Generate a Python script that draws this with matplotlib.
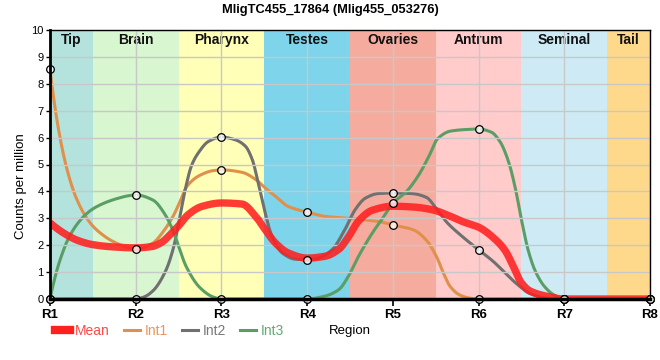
import numpy as np
import matplotlib
matplotlib.use("Agg")
import matplotlib.pyplot as plt
from matplotlib.lines import Line2D

plt.rcParams['font.family'] = ['Liberation Sans', 'DejaVu Sans']

title = "MligTC455_17864 (Mlig455_053276)"
regions = ['R1', 'R2', 'R3', 'R4', 'R5', 'R6', 'R7', 'R8']
region_pos = [1, 2, 3, 4, 5, 6, 7, 8]

# values at each region (markers)
int1 = [8.55, 1.85, 4.8, 3.23, 2.75, 0, 0, 0]
int2 = [0, 0, 6.02, 1.46, 3.94, 1.83, 0, 0]
int3 = [0, 3.87, 0, 0, 3.56, 6.32, 0, 0]

# smoothed expression profiles along the body
int1_x = [1.0, 1.05, 1.1, 1.15, 1.2, 1.25, 1.3, 1.4, 1.5, 1.6, 1.7, 1.8, 1.9, 2.0,
          2.2, 2.32, 2.44, 2.5, 2.6, 2.75, 2.9, 3.0, 3.24, 3.4, 3.51, 3.63, 3.78, 4.0,
          4.21, 4.48, 4.68, 4.85, 5.0, 5.24, 5.39, 5.51, 5.59, 5.67, 5.78, 5.9, 6.0, 8.0]
int1_v = [8.55, 7.3, 6.3, 5.47, 4.8, 4.25, 3.8, 3.15, 2.71, 2.42, 2.2, 2.04, 1.92, 1.85,
          2.08, 2.5, 3.1, 3.5, 4.2, 4.6, 4.77, 4.8, 4.71, 4.44, 4.13, 3.82, 3.44, 3.23,
          3.07, 3.0, 2.94, 2.87, 2.75, 2.57, 2.19, 1.57, 0.96, 0.46, 0.15, 0.03, 0.0, 0.0]

int2_x = [1.0, 2.0, 2.1, 2.2, 2.35, 2.44, 2.5, 2.58, 2.65, 2.73, 2.85, 3.0,
          3.16, 3.28, 3.36, 3.43, 3.51, 3.59, 3.71, 3.86, 4.0,
          4.13, 4.29, 4.44, 4.56, 4.68, 4.83, 5.0,
          5.22, 5.39, 5.51, 5.63, 5.8, 6.0,
          6.17, 6.31, 6.45, 6.6, 6.8, 7.0, 8.0]
int2_v = [0.0, 0.0, 0.08, 0.3, 1.05, 1.9, 2.8, 4.1, 4.95, 5.43, 5.86, 6.02,
          5.92, 5.68, 5.18, 4.31, 3.2, 2.33, 1.71, 1.48, 1.46,
          1.52, 1.83, 2.58, 3.32, 3.75, 3.92, 3.94,
          3.92, 3.78, 3.35, 2.85, 2.35, 1.83,
          1.4, 0.97, 0.55, 0.2, 0.03, 0.0, 0.0]

int3_x = [1.0, 1.05, 1.1, 1.15, 1.2, 1.3, 1.4, 1.5, 1.6, 1.7, 1.8, 1.9, 2.0,
          2.2, 2.35, 2.44, 2.5, 2.59, 2.75, 2.9, 3.0, 4.0,
          4.2, 4.37, 4.48, 4.6, 4.76, 4.88, 5.0,
          5.16, 5.3, 5.42, 5.52, 5.67, 5.85, 6.0,
          6.15, 6.25, 6.35, 6.43, 6.5, 6.58, 6.66, 6.77, 6.88, 7.0, 8.0]
int3_v = [0.0, 0.7, 1.28, 1.75, 2.15, 2.71, 3.09, 3.35, 3.52, 3.65, 3.75, 3.83, 3.87,
          3.68, 3.1, 2.5, 1.95, 1.2, 0.42, 0.08, 0.0, 0.0,
          0.1, 0.35, 0.84, 1.59, 2.45, 3.0, 3.56,
          4.0, 4.6, 5.3, 5.95, 6.24, 6.3, 6.32,
          6.2, 5.85, 5.1, 4.1, 2.95, 1.8, 1.05, 0.46, 0.15, 0.0, 0.0]

mean_x = [1.0, 1.175, 1.33, 1.5, 1.72, 2.0, 2.19, 2.3, 2.42, 2.5, 2.61, 2.77, 3.0,
          3.24, 3.4, 3.51, 3.63, 3.78, 4.0, 4.21, 4.37, 4.48, 4.6, 4.76, 5.0,
          5.24, 5.47, 5.63, 5.82, 6.0, 6.2, 6.31, 6.4, 6.5, 6.6, 6.8, 7.0, 8.0]
mean_v = [2.83, 2.42, 2.17, 2.02, 1.94, 1.9, 1.95, 2.1, 2.45, 2.72, 3.13, 3.44, 3.57,
          3.53, 3.07, 2.58, 2.08, 1.71, 1.52, 1.59, 1.85, 2.3, 2.9, 3.3, 3.45,
          3.42, 3.31, 3.13, 2.87, 2.67, 2.2, 1.8, 1.25, 0.6, 0.3, 0.1, 0.0, 0.0]

bands = ['Tip', 'Brain', 'Pharynx', 'Testes', 'Ovaries', 'Antrum', 'Seminal', 'Tail']
band_start = [1.0, 1.5, 2.5, 3.5, 4.5, 5.5, 6.5, 7.5]
band_end = [1.5, 2.5, 3.5, 4.5, 5.5, 6.5, 7.5, 8.0]
band_colors = ['#b4e3de', '#d8f6d0', '#ffffb7', '#7dd4eb', '#f5ac9f', '#ffcbcb', '#ceebf5', '#fed98b']

series_names = ['Mean', 'Int1', 'Int2', 'Int3']
series_colors = ['#ff2020', '#e0904a', '#707070', '#5a9e66']
text_colors = ['#ff4848', '#e8965c', '#787878', '#66a874']


def pchip(x, y, xs):
    x = np.asarray(x, float)
    y = np.asarray(y, float)
    h = np.diff(x)
    d = np.diff(y) / h
    n = len(x)
    m = np.zeros(n)
    for k in range(1, n - 1):
        if d[k - 1] * d[k] > 0:
            w1 = 2 * h[k] + h[k - 1]
            w2 = h[k] + 2 * h[k - 1]
            m[k] = (w1 + w2) / (w1 / d[k - 1] + w2 / d[k])
        else:
            m[k] = 0.0

    def end_slope(h0, h1, d0, d1):
        s = ((2 * h0 + h1) * d0 - h0 * d1) / (h0 + h1)
        if np.sign(s) != np.sign(d0):
            s = 0.0
        elif np.sign(d0) != np.sign(d1) and abs(s) > abs(3 * d0):
            s = 3 * d0
        return s
    m[0] = end_slope(h[0], h[1], d[0], d[1])
    m[-1] = end_slope(h[-1], h[-2], d[-1], d[-2])
    idx = np.clip(np.searchsorted(x, xs) - 1, 0, n - 2)
    t = (xs - x[idx]) / h[idx]
    h00 = 2 * t**3 - 3 * t**2 + 1
    h10 = t**3 - 2 * t**2 + t
    h01 = -2 * t**3 + 3 * t**2
    h11 = t**3 - t**2
    return h00 * y[idx] + h10 * h[idx] * m[idx] + h01 * y[idx + 1] + h11 * h[idx] * m[idx + 1]


fig = plt.figure(figsize=(6.6, 3.6), dpi=100)
ax = fig.add_axes([50 / 660, 1 - 299 / 360, 600 / 660, 269 / 360])

for name, s, e, c in zip(bands, band_start, band_end, band_colors):
    ax.axvspan(s, e, color=c, zorder=0, lw=0)
    ax.text((s + e) / 2, 0.962, name, transform=ax.get_xaxis_transform(),
            ha='center', va='center', fontsize=10, fontweight='bold', color='#111111', zorder=1)

ax.set_xlim(1, 8)
ax.set_ylim(0, 10)
ax.set_xticks(region_pos)
ax.set_xticklabels(regions, fontsize=9.5, fontweight='bold')
ax.set_yticks(range(0, 11))
ax.tick_params(axis='y', labelsize=8, length=3, width=1, pad=1.5)
ax.tick_params(axis='x', length=5, width=1.2, pad=2)
ax.grid(True, color='#c8c8c8', lw=1, zorder=0.5)
ax.set_axisbelow(False)
for gl in ax.get_xgridlines() + ax.get_ygridlines():
    gl.set_zorder(0.5)

xs = np.linspace(1, 8, 1401)
c1 = np.clip(pchip(int1_x, int1_v, xs), 0, None)
c2 = np.clip(pchip(int2_x, int2_v, xs), 0, None)
c3 = np.clip(pchip(int3_x, int3_v, xs), 0, None)
cm = np.clip(pchip(mean_x, mean_v, xs), 0, None)

ax.plot(xs, c1, color=series_colors[1], lw=2.2, zorder=2, solid_capstyle='round')
ax.plot(xs, c2, color=series_colors[2], lw=2.2, zorder=2, solid_capstyle='round')
ax.plot(xs, c3, color=series_colors[3], lw=2.2, zorder=2, solid_capstyle='round')
ax.plot(xs, cm, color=series_colors[0], lw=5.3, alpha=0.88, zorder=3, solid_capstyle='butt')

for vals in (int1, int2, int3):
    ax.plot(region_pos, vals, ls='none', marker='o', ms=5.5, mfc=(1, 1, 1, 0.75),
            mec='black', mew=0.9, zorder=5, clip_on=False)

for side in ('top', 'right'):
    ax.spines[side].set_linewidth(1)
ax.spines['left'].set_linewidth(2)
ax.spines['bottom'].set_linewidth(2.5)
for sp in ax.spines.values():
    sp.set_zorder(6)

ax.set_ylabel('Counts per million', fontsize=9.5)
ax.yaxis.set_label_coords(-0.038, 0.42)

fig.text(0.5, 1 - 10 / 360, title, ha='center', va='center', fontsize=9.3, fontweight='bold')

handles = [Line2D([], [], color=series_colors[0], lw=6),
           Line2D([], [], color=series_colors[1], lw=2.2),
           Line2D([], [], color=series_colors[2], lw=2.2),
           Line2D([], [], color=series_colors[3], lw=2.2)]
leg = fig.legend(handles, series_names, loc='center left', ncol=4,
                 bbox_to_anchor=(55 / 660, 1 - 331 / 360), frameon=False,
                 fontsize=10, handlelength=1.1, handletextpad=0.35,
                 columnspacing=1.05, borderaxespad=0, borderpad=0)
for t, c in zip(leg.get_texts(), text_colors):
    t.set_color(c)

fig.text(350 / 660, 1 - 331 / 360, 'Region', ha='center', va='center', fontsize=9.5)

fig.savefig('out.png', dpi=100)
